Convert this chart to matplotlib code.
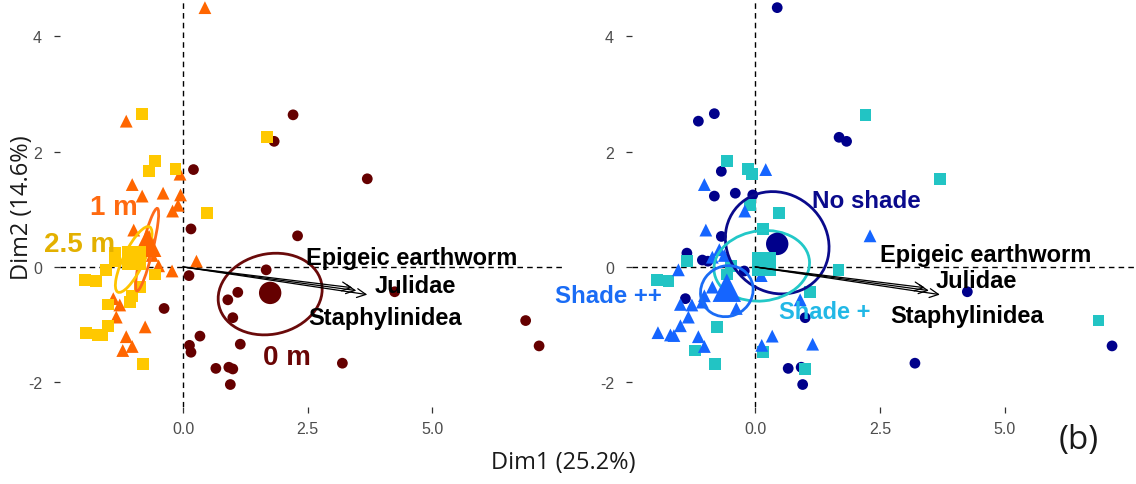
import matplotlib
matplotlib.use("Agg")
import matplotlib.pyplot as plt
from matplotlib.patches import Ellipse

# ---------------- data (individual coordinates on PCA dims) ----------------
dim1 = [0.44, -1.14, -0.82, 1.68, 1.83, 2.21, -0.56, -0.15, -0.06, 0.21,
        -0.68, -1.02, -0.82, -0.40, -0.05, -0.10, -0.21, 0.48, -0.99, -0.68,
        0.16, 2.30, 3.70, 1.67, 1.10, 0.90, 1.00, 4.25, 6.88, 7.15,
        0.34, 0.13, 0.16, 1.15, 0.66, 0.92, 1.00, 0.95, 3.20, -0.38,
        0.12, -1.97, -1.74, -1.54, -1.37, -1.37, -1.06, -0.95, -0.86, -0.56,
        -1.02, -1.06, -1.50, -1.50, -1.95, -1.70, -1.63, -0.80, -0.86, -1.40,
        -1.27, -1.34, -0.76, -1.14, -1.21, -1.02, -0.22, -0.49, 0.27, -0.72,
        -0.62]
dim2 = [4.50, 2.53, 2.66, 2.25, 2.18, 2.64, 1.84, 1.70, 1.61, 1.69,
        1.66, 1.43, 1.23, 1.28, 1.25, 1.07, 0.97, 0.93, 0.64, 0.53,
        0.66, 0.54, 1.53, -0.05, -0.44, -0.57, -0.88, -0.43, -0.93, -1.37,
        -1.20, -1.36, -1.48, -1.34, -1.76, -1.74, -1.77, -2.04, -1.67, -0.72,
        -0.15, -0.23, -0.25, -0.05, 0.24, 0.10, 0.12, 0.10, 0.17, -0.13,
        -0.50, -0.61, -0.65, -1.02, -1.14, -1.18, -1.19, -1.69, -0.35, -0.55,
        -0.66, -0.87, -1.04, -1.21, -1.45, -1.38, -0.07, 0.02, 0.10, 0.30,
        0.20]
distance = ["1 m", "1 m", "2.5 m", "2.5 m", "0 m", "0 m", "2.5 m", "2.5 m", "1 m", "0 m",
            "2.5 m", "1 m", "1 m", "1 m", "1 m", "1 m", "1 m", "2.5 m", "1 m", "1 m",
            "0 m", "0 m", "0 m", "0 m", "0 m", "0 m", "0 m", "0 m", "0 m", "0 m",
            "0 m", "0 m", "0 m", "0 m", "0 m", "0 m", "0 m", "0 m", "0 m", "0 m",
            "0 m", "2.5 m", "2.5 m", "2.5 m", "2.5 m", "2.5 m", "2.5 m", "2.5 m", "2.5 m", "2.5 m",
            "2.5 m", "2.5 m", "2.5 m", "2.5 m", "2.5 m", "2.5 m", "2.5 m", "2.5 m", "2.5 m", "1 m",
            "1 m", "1 m", "1 m", "1 m", "1 m", "1 m", "1 m", "1 m", "1 m", "1 m",
            "1 m"]
shade = ["No shade", "No shade", "No shade", "No shade", "No shade", "Shade +", "Shade +", "Shade +", "Shade +", "Shade ++",
         "No shade", "Shade ++", "No shade", "No shade", "No shade", "Shade +", "Shade ++", "Shade +", "Shade ++", "No shade",
         "Shade +", "Shade ++", "Shade +", "Shade +", "Shade +", "Shade ++", "No shade", "No shade", "Shade +", "No shade",
         "Shade ++", "Shade ++", "Shade +", "Shade ++", "No shade", "No shade", "Shade +", "No shade", "No shade", "Shade ++",
         "Shade ++", "Shade +", "Shade +", "Shade ++", "No shade", "Shade +", "No shade", "No shade", "Shade ++", "Shade +",
         "Shade ++", "Shade ++", "Shade ++", "Shade ++", "Shade ++", "Shade ++", "Shade ++", "Shade +", "Shade ++", "No shade",
         "Shade ++", "Shade ++", "Shade +", "Shade ++", "Shade +", "Shade ++", "No shade", "Shade +", "Shade +", "Shade ++",
         "Shade ++"]

# group levels, means and confidence ellipses (center x, center y, width, height, angle)
dist_levels = ["0 m", "1 m", "2.5 m"]
dist_mean_x = [1.75, -0.72, -0.99]
dist_mean_y = [-0.45, 0.42, 0.15]
dist_ell = [(1.75, -0.47, 2.10, 1.40, 8), (-0.72, 0.30, 1.49, 0.22, 74), (-0.99, 0.13, 1.30, 0.40, 60)]
dist_label_x = [2.09, -1.39, -2.07]
dist_label_y = [-1.56, 1.04, 0.40]

shade_levels = ["No shade", "Shade +", "Shade ++"]
shade_mean_x = [0.44, 0.17, -0.57]
shade_mean_y = [0.40, 0.05, -0.36]
shade_ell = [(0.44, 0.42, 2.10, 1.75, -15), (0.13, 0.02, 1.92, 1.22, 5), (-0.57, -0.42, 1.06, 0.88, 10)]
shade_label_x = [2.22, 1.40, -2.95]
shade_label_y = [1.16, -0.78, -0.50]

# variable arrows
var_names = ["Epigeic earthworm", "Julidae", "Staphylinidea"]
var_x = [3.40, 3.70, 3.48]
var_y = [-0.36, -0.48, -0.41]
var_label_left_x = [4.60, 4.66, 4.06]
var_label_left_y = [0.17, -0.33, -0.87]
var_label_right_x = [4.62, 4.44, 4.25]
var_label_right_y = [0.21, -0.23, -0.85]

xticks = [0.0, 2.5, 5.0]
xtick_labels = ["0.0", "2.5", "5.0"]
yticks = [-2, 0, 2, 4]
ytick_labels = ["-2", "0", "2", "4"]

# ---------------- styles ----------------
dist_style = {
    "0 m": dict(color="#650000", marker="o", label_color="#6A0505", ell="#6A0A0A"),
    "1 m": dict(color="#FF6600", marker="^", label_color="#FF6A10", ell="#FF6A1A"),
    "2.5 m": dict(color="#FFC800", marker="s", label_color="#E3B000", ell="#FFC400"),
}
shade_style = {
    "No shade": dict(color="#00008B", marker="o", label_color="#0A0A8C", ell="#0A0A8C"),
    "Shade +": dict(color="#22C4C4", marker="s", label_color="#22B8E6", ell="#22C8C8"),
    "Shade ++": dict(color="#1565FF", marker="^", label_color="#1A6CF5", ell="#1A6CF5"),
}
marker_size = {"o": 60, "^": 85, "s": 72}
mean_size = {"o": 260, "^": 420, "s": 300}
label_size = {"0 m": 20, "1 m": 20, "2.5 m": 20, "No shade": 17.4, "Shade +": 17, "Shade ++": 17.3}

W, H = 1136, 485
fig = plt.figure(figsize=(W / 100, H / 100), dpi=100)


def ax_at(l, r, top, bot):
    return fig.add_axes([l / W, 1 - bot / H, (r - l) / W, (bot - top) / H])


axL = ax_at(60, 563, 0, 408)
axR = ax_at(632, 1136, 0, 408)

LBL = "Liberation Sans"


def setup(ax):
    ax.set_xlim(-2.47, 7.63)
    ax.set_ylim(-2.43, 4.65)
    for s in ax.spines.values():
        s.set_visible(False)
    ax.set_xticks(xticks)
    ax.set_xticklabels(xtick_labels)
    ax.set_yticks(yticks)
    ax.set_yticklabels(ytick_labels)
    ax.tick_params(axis="both", length=4, width=0.9, color="#333333",
                   labelcolor="#4D4D4D", labelsize=11.5)
    ax.tick_params(axis="y", pad=9)
    ax.tick_params(axis="x", pad=6)
    for t in ax.get_xticklabels() + ax.get_yticklabels():
        t.set_family(LBL)
    ax.axhline(0, color="black", lw=1.0, ls=(0, (4, 3)), zorder=1)
    ax.axvline(0, color="black", lw=1.0, ls=(0, (4, 3)), zorder=1)


def draw_panel(ax, groups, levels, style, means_x, means_y, ells, lab_x, lab_y, vlx, vly):
    setup(ax)
    for lev in levels:
        st = style[lev]
        xs = [x for x, g in zip(dim1, groups) if g == lev]
        ys = [y for y, g in zip(dim2, groups) if g == lev]
        ax.scatter(xs, ys, s=marker_size[st["marker"]], marker=st["marker"],
                   color=st["color"], edgecolors="none", zorder=2)
    for i, lev in enumerate(levels):
        st = style[lev]
        cx, cy, w, h, a = ells[i]
        ax.add_patch(Ellipse((cx, cy), w, h, angle=a, fill=False,
                             edgecolor=st["ell"], lw=2.0, zorder=3))
        ax.scatter([means_x[i]], [means_y[i]], s=mean_size[st["marker"]],
                   marker=st["marker"], color=st["color"], edgecolors="none", zorder=4)
    for j in range(len(var_names)):
        ax.annotate("", xy=(var_x[j], var_y[j]), xytext=(0, 0),
                    arrowprops=dict(arrowstyle="->", color="black", lw=0.9,
                                    mutation_scale=16, shrinkA=0, shrinkB=0),
                    zorder=5)
        ax.text(vlx[j], vly[j], var_names[j], ha="center", va="center",
                fontsize=17, fontweight="bold", family=LBL, color="black", zorder=6)
    for i, lev in enumerate(levels):
        ax.text(lab_x[i], lab_y[i], lev, ha="center", va="center",
                fontsize=label_size[lev], fontweight="bold", family=LBL,
                color=style[lev]["label_color"], zorder=6, clip_on=False)


draw_panel(axL, distance, dist_levels, dist_style, dist_mean_x, dist_mean_y,
           dist_ell, dist_label_x, dist_label_y, var_label_left_x, var_label_left_y)
draw_panel(axR, shade, shade_levels, shade_style, shade_mean_x, shade_mean_y,
           shade_ell, shade_label_x, shade_label_y, var_label_right_x, var_label_right_y)

fig.text(563 / W, 1 - 463 / H, "Dim1 (25.2%)", ha="center", va="center",
         fontsize=17, family="Open Sans", color="#1A1A1A")
fig.text(22 / W, 1 - 208 / H, "Dim2 (14.6%)", ha="center", va="center",
         rotation=90, fontsize=17, family="Open Sans", color="#1A1A1A")
fig.text(1079 / W, 1 - 441 / H, "(b)", ha="center", va="center",
         fontsize=24, family="Open Sans", color="#1A1A1A")

fig.savefig("out.png", dpi=100)
